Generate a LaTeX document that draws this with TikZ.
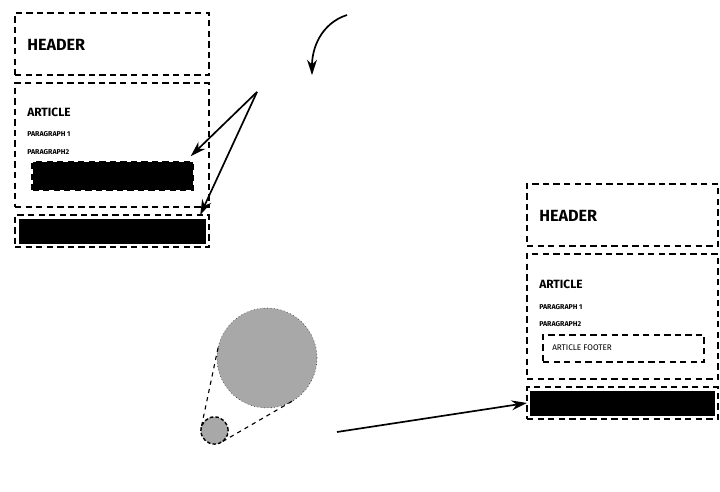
\documentclass[tikz,border=0pt]{standalone}
\usepackage{fontspec}
\setmainfont{Fira Sans}
\usetikzlibrary{arrows.meta,positioning,calc}
\definecolor{lensgray}{RGB}{168,168,168}

\begin{document}
\begin{tikzpicture}[
    region/.style={rectangle, draw, line width=1.3pt, dash pattern=on 4.5pt off 3pt, anchor=north west, inner sep=0pt, outer sep=0pt},
    bar/.style={rectangle, draw=black, fill=black, inner sep=0pt},
    title/.style={anchor=west, inner sep=0pt, font=\fontsize{11.5}{13}\selectfont\bfseries},
    subtitle/.style={anchor=west, inner sep=0pt, font=\fontsize{8.5}{10}\selectfont\bfseries},
    para/.style={anchor=west, inner sep=0pt, font=\fontsize{5}{6}\selectfont\bfseries},
    lens/.style={circle, fill=lensgray, inner sep=0pt, outer sep=0pt},
    arrow/.style={-{Stealth[length=11pt, width=7pt]}, line width=1.2pt}
]
\useasboundingbox (0,0) rectangle (18,12.3);

% Page before
\node[region, minimum width=4.85cm, minimum height=1.55cm] (lhead) at (0.375, 11.975) {};
\node[title] (lheadtxt) at (0.675, 11.175) {HEADER};

\node[region, minimum width=4.85cm, minimum height=3.1cm] (lart) at (0.375, 10.225) {};
\node[subtitle] (larttxt) at (0.675, 9.5) {ARTICLE};
\node[para] (lpar1) at (0.675, 8.95) {PARAGRAPH 1};
\node[para] (lpar2) at (0.675, 8.5) {PARAGRAPH2};
\node[bar, line width=2pt, dash pattern=on 4.5pt off 3pt, minimum width=4.0cm, minimum height=0.68cm] (lartfoot) at (2.8125, 7.9) {};

\node[region, minimum width=4.85cm, minimum height=0.8cm] (lfoot) at (0.375, 6.925) {};
\node[bar, minimum width=4.65cm, minimum height=0.6cm] (lfootbar) at (lfoot.center) {};

% Pointer arrows
\coordinate (pick) at (6.425, 10.0);
\draw[arrow] (pick) -- ([xshift=-0.08cm, yshift=0.12cm]lartfoot.north east);
\draw[arrow] (pick) -- ([xshift=-0.22cm]lfoot.north east);

\coordinate (turnA) at (8.675, 11.925);
\coordinate (turnB) at (7.8, 10.42);
\draw[arrow] (turnA) to[out=198, in=90] (turnB);

% Magnifier
\node[lens, draw, dotted, thin, minimum size=2.5cm] (big) at (6.675, 3.35) {};
\node[lens, draw, line width=1pt, dash pattern=on 2.5pt off 1.5pt, minimum size=0.68cm] (small) at (5.3625, 1.5375) {};
\draw[dashed, thick] (big.168) -- (small.168);
\draw[dashed, thick] (big.300) -- (small.300);

% Page after
\node[region, minimum width=4.775cm, minimum height=1.55cm] (rhead) at (13.175, 7.7) {};
\node[title] (rheadtxt) at (13.475, 6.9) {HEADER};

\node[region, minimum width=4.775cm, minimum height=3.125cm] (rart) at (13.175, 5.95) {};
\node[subtitle] (rarttxt) at (13.475, 5.2) {ARTICLE};
\node[para] (rpar1) at (13.475, 4.625) {PARAGRAPH 1};
\node[para] (rpar2) at (13.475, 4.2) {PARAGRAPH2};
\node[region, line width=1.1pt, minimum width=4.025cm, minimum height=0.675cm] (rartfoot) at (13.575, 3.925) {};
\node[anchor=west, inner sep=0pt, font=\fontsize{5.8}{7}\selectfont] (rartfoottxt) at (13.8, 3.6) {ARTICLE FOOTER};

\node[region, minimum width=4.775cm, minimum height=0.8cm] (rfoot) at (13.175, 2.625) {};
\node[bar, minimum width=4.6cm, minimum height=0.6cm] (rfootbar) at (rfoot.center) {};

\coordinate (move) at (8.425, 1.5);
\draw[arrow] (move) -- (rfoot.west);

\end{tikzpicture}
\end{document}
